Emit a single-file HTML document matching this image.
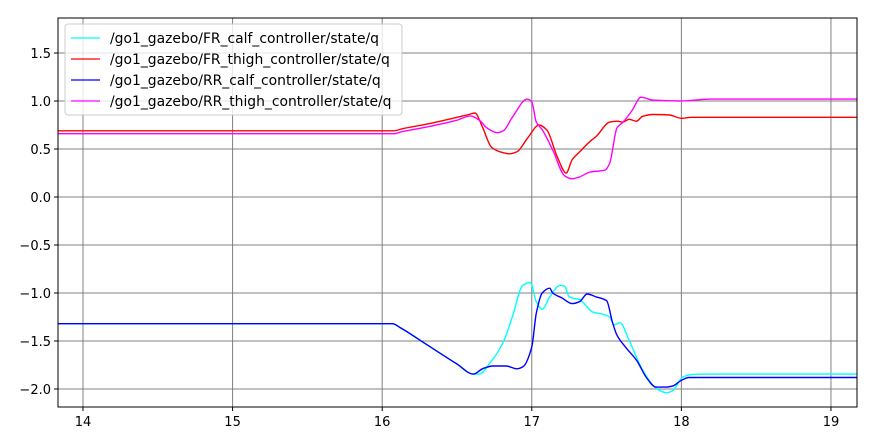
<!DOCTYPE html>
<html><head><meta charset="utf-8"><style>
html,body{margin:0;padding:0;background:#fff;}
svg{display:block;font-family:"DejaVu Sans","Liberation Sans",sans-serif;}
</style></head><body>
<svg id="chart" width="874" height="445" viewBox="0 0 874 445" xmlns="http://www.w3.org/2000/svg">
<rect x="0" y="0" width="874" height="445" fill="#fff"/>
<g id="grid"></g>
<g id="series"></g>
<rect x="58" y="18" width="799" height="389" fill="none" stroke="#000" stroke-width="1"/>
<g id="ticks"></g>
<g id="legend"></g>
</svg>
<script>
const xTicks=[14,15,16,17,18,19];
const yTicks=[1.5,1.0,0.5,0.0,-0.5,-1.0,-1.5,-2.0];
const yTickLabels=["1.5","1.0","0.5","0.0","\u22120.5","\u22121.0","\u22121.5","\u22122.0"];
const seriesNames=["/go1_gazebo/FR_calf_controller/state/q","/go1_gazebo/FR_thigh_controller/state/q","/go1_gazebo/RR_calf_controller/state/q","/go1_gazebo/RR_thigh_controller/state/q"];
const seriesColors=["#00ffff","#ff0000","#0000ff","#ff00ff"];
const frCalfT=[13.8,16.07,16.12,16.3,16.5,16.61,16.65,16.72,16.81,16.87,16.94,16.99,17.03,17.07,17.12,17.19,17.22,17.25,17.32,17.41,17.47,17.52,17.55,17.59,17.65,17.74,17.83,17.90,17.94,18.01,18.07,18.2,19.2];
const frCalfV=[-1.32,-1.32,-1.36,-1.54,-1.74,-1.845,-1.845,-1.73,-1.51,-1.25,-0.92,-0.89,-1.09,-1.17,-1.04,-0.92,-0.93,-1.04,-1.07,-1.2,-1.22,-1.25,-1.33,-1.31,-1.49,-1.8,-1.99,-2.04,-2.02,-1.875,-1.85,-1.845,-1.845];
const frThighT=[13.8,16.08,16.13,16.3,16.5,16.58,16.62,16.67,16.73,16.79,16.85,16.90,16.97,17.05,17.10,17.17,17.23,17.27,17.32,17.39,17.43,17.52,17.57,17.61,17.65,17.70,17.74,17.81,17.92,18.0,18.07,18.3,19.2];
const frThighV=[0.69,0.69,0.71,0.76,0.83,0.86,0.875,0.73,0.52,0.47,0.45,0.47,0.61,0.75,0.70,0.42,0.25,0.39,0.47,0.58,0.63,0.78,0.79,0.78,0.81,0.79,0.84,0.86,0.855,0.82,0.83,0.83,0.83];
const rrCalfT=[13.8,16.07,16.12,16.3,16.5,16.61,16.67,16.74,16.83,16.90,16.94,17.0,17.03,17.07,17.12,17.14,17.20,17.27,17.32,17.37,17.43,17.50,17.54,17.57,17.63,17.70,17.77,17.83,17.90,17.94,18.0,18.05,18.2,19.2];
const rrCalfV=[-1.32,-1.32,-1.36,-1.54,-1.74,-1.845,-1.79,-1.76,-1.76,-1.79,-1.77,-1.56,-1.21,-1.0,-0.95,-1.0,-1.05,-1.11,-1.09,-1.01,-1.04,-1.08,-1.31,-1.44,-1.57,-1.70,-1.89,-1.98,-1.98,-1.97,-1.91,-1.88,-1.88,-1.88];
const rrThighT=[13.8,16.08,16.13,16.3,16.5,16.59,16.65,16.70,16.77,16.81,16.87,16.97,17.0,17.03,17.07,17.14,17.22,17.27,17.32,17.39,17.49,17.52,17.57,17.61,17.67,17.73,17.81,17.99,18.2,19.2];
const rrThighV=[0.66,0.66,0.68,0.73,0.80,0.845,0.80,0.72,0.67,0.69,0.83,1.02,0.99,0.78,0.70,0.49,0.22,0.19,0.21,0.26,0.28,0.35,0.72,0.78,0.90,1.04,1.01,1.0,1.02,1.02];

const X0=58,X1=857,Y0=18,Y1=407;
const xMin=13.833,xMax=19.174,yMin=-2.1875,yMax=1.865;
const sx=t=>X0+(t-xMin)/(xMax-xMin)*(X1-X0);
const sy=v=>Y1-(v-yMin)/(yMax-yMin)*(Y1-Y0);
const NS="http://www.w3.org/2000/svg";
function mk(tag,attrs,parent){const e=document.createElementNS(NS,tag);for(const k in attrs)e.setAttribute(k,attrs[k]);parent.appendChild(e);return e;}
const grid=document.getElementById('grid'),ticks=document.getElementById('ticks');
xTicks.forEach(t=>{
  const x=sx(t);
  const g=mk('line',{x1:x,x2:x,y1:Y0,y2:Y1,stroke:'#808080','stroke-width':1},grid);
  
  
  const tk=mk('line',{x1:x,x2:x,y1:Y1,y2:Y1+4,stroke:'#000'},ticks);
  
  
  const lb=mk('text',{x:x,y:Y1+19,'text-anchor':'middle','font-size':13,fill:'#000'},ticks);
  lb.textContent=String(t);
  
  
});
yTicks.forEach((v,i)=>{
  const y=sy(v);
  const g=mk('line',{x1:X0,x2:X1,y1:y,y2:y,stroke:'#808080','stroke-width':1},grid);
  
  
  const tk=mk('line',{x1:X0-4,x2:X0,y1:y,y2:y,stroke:'#000'},ticks);
  
  
  const lb=mk('text',{x:X0-7,y:y+5,'text-anchor':'end','font-size':13,fill:'#000'},ticks);
  lb.textContent=yTickLabels[i];
  
  
});
const series=document.getElementById('series');
const clip=mk('clipPath',{id:'pc'},series);
mk('rect',{x:X0,y:Y0,width:X1-X0,height:Y1-Y0},clip);
const data=[[frCalfT,frCalfV],[frThighT,frThighV],[rrCalfT,rrCalfV],[rrThighT,rrThighV]];
const sNames=['fr-calf-line','fr-thigh-line','rr-calf-line','rr-thigh-line'];
function monoPath(P){
  const n=P.length,dx=[],m=[],s=[];
  for(let i=0;i<n-1;i++){dx[i]=P[i+1][0]-P[i][0];s[i]=(P[i+1][1]-P[i][1])/dx[i];}
  m[0]=s[0];m[n-1]=s[n-2];
  for(let i=1;i<n-1;i++){
    if(s[i-1]*s[i]<=0)m[i]=0;
    else{const w1=2*dx[i]+dx[i-1],w2=dx[i]+2*dx[i-1];m[i]=(w1+w2)/(w1/s[i-1]+w2/s[i]);}
  }
  let d='M'+P[0][0].toFixed(1)+','+P[0][1].toFixed(1);
  for(let i=0;i<n-1;i++){
    const h=dx[i]/3;
    d+=' C'+(P[i][0]+h).toFixed(1)+','+(P[i][1]+m[i]*h).toFixed(1)+' '+(P[i+1][0]-h).toFixed(1)+','+(P[i+1][1]-m[i+1]*h).toFixed(1)+' '+P[i+1][0].toFixed(1)+','+P[i+1][1].toFixed(1);
  }
  return d;
}
data.forEach((d,i)=>{
  const P=d[0].map((t,j)=>[sx(t),sy(d[1][j])]);
  const p=mk('path',{d:monoPath(P),fill:'none',stroke:seriesColors[i],'stroke-width':1.4,'stroke-linejoin':'round','clip-path':'url(#pc)'},series);
  
  
});
const legend=document.getElementById('legend');
const box=mk('rect',{x:65,y:24,width:337,height:91,rx:3,fill:'#fff','fill-opacity':0.8,stroke:'#cccccc'},legend);


seriesNames.forEach((n,i)=>{
  const y=38+i*21;
  const l=mk('line',{x1:71,x2:100,y1:y,y2:y,stroke:seriesColors[i],'stroke-width':1.3},legend);
  
  
  const t=mk('text',{x:110,y:y+5,'font-size':13.9,fill:'#000'},legend);
  t.textContent=n;
  
  
});
</script>
</body></html>
